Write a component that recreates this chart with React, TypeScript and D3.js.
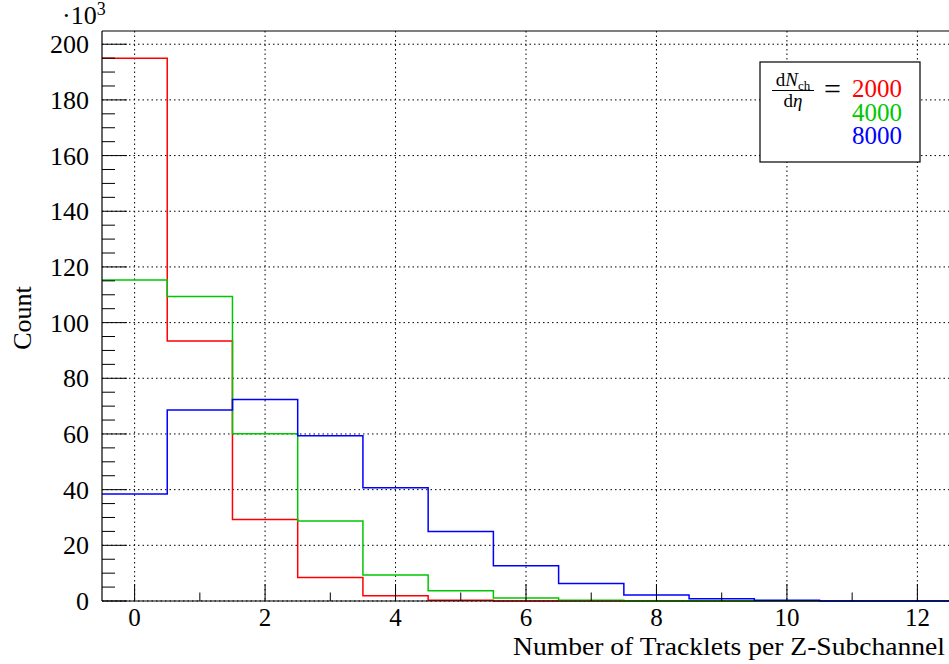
import * as d3 from 'd3';
import React from 'react';

// bin centers 0..12 (bin width 1, range -0.5 .. 12.5), counts in thousands
const binCenters = [0, 1, 2, 3, 4, 5, 6, 7, 8, 9, 10, 11, 12];
const counts2000 = [195, 93.4, 29.3, 8.4, 1.9, 0.3, 0, 0, 0, 0, 0, 0, 0];
const counts4000 = [115.3, 109.4, 60.1, 28.7, 9.3, 3.7, 1.1, 0.3, 0.05, 0, 0, 0, 0];
const counts8000 = [38.4, 68.6, 72.4, 59.4, 40.7, 25.0, 12.7, 6.3, 2.2, 0.85, 0.25, 0, 0];

const seriesNames = ['2000', '4000', '8000'];
const seriesColors = ['#ff0000', '#00c800', '#0000ff'];

const xTicks = [0, 2, 4, 6, 8, 10, 12];
const yTicks = [0, 20, 40, 60, 80, 100, 120, 140, 160, 180, 200];

const FONT = "'Liberation Serif', 'Times New Roman', serif";

const App = () => {
  const W = 949;
  const H = 664;
  const margin = { top: 31, right: 0, bottom: 63, left: 102 };
  const innerW = 950 - margin.left;
  const innerH = H - margin.top - margin.bottom;

  const xScale = d3.scaleLinear().domain([-0.5, 12.5]).range([0, innerW]);
  const yScale = d3.scaleLinear().domain([0, 195 * 1.05]).range([innerH, 0]);

  // step path like a ROOT histogram
  const stepPath = (vals: number[]) => {
    const pts: [number, number][] = [];
    vals.forEach((v, i) => {
      pts.push([binCenters[i] - 0.5, v]);
      pts.push([binCenters[i] + 0.5, v]);
    });
    return d3
      .line<[number, number]>()
      .x((d) => xScale(d[0]))
      .y((d) => yScale(d[1]))(pts);
  };

  const allSeries = [counts2000, counts4000, counts8000];

  const minorX = d3.range(0, 13, 1).filter((v) => v % 2 !== 0);
  const minorY = d3.range(0, 205, 5).filter((v) => v % 20 !== 0);

  return (
    <svg width={W} height={H} style={{ display: 'block', position: 'absolute', left: 0, top: 0 }}>
      <rect x={0} y={0} width={W} height={H} fill="#ffffff" />
      <g transform={`translate(${margin.left},${margin.top})`}>
        {/* Grid */}
        {xTicks.map((t) => (
          <line
            key={'gx' + t}
            x1={xScale(t)}
            x2={xScale(t)}
            y1={0}
            y2={innerH}
            stroke="#000"
            strokeWidth={1}
            strokeDasharray="1.5,3"
          />
        ))}
        {yTicks.map((t) => (
          <line
            key={'gy' + t}
            x1={0}
            x2={innerW}
            y1={yScale(t)}
            y2={yScale(t)}
            stroke="#000"
            strokeWidth={1}
            strokeDasharray="1.5,3"
          />
        ))}

        {/* Histograms */}
        {allSeries.map((vals, i) => (
          <path
            key={'h' + i}
            d={stepPath(vals) || ''}
            fill="none"
            stroke={seriesColors[i]}
            strokeWidth={1.5}
          />
        ))}

        {/* Frame */}
        <line x1={0} x2={innerW} y1={0} y2={0} stroke="#000" strokeWidth={1.2} />
        <line x1={0} x2={0} y1={0} y2={innerH} stroke="#000" strokeWidth={1.2} />
        <line x1={0} x2={innerW} y1={innerH} y2={innerH} stroke="#000" strokeWidth={1.2} />

        {/* X ticks */}
        {xTicks.map((t) => (
          <line key={'xt' + t} x1={xScale(t)} x2={xScale(t)} y1={innerH} y2={innerH - 17} stroke="#000" />
        ))}
        {minorX.map((t) => (
          <line key={'xm' + t} x1={xScale(t)} x2={xScale(t)} y1={innerH} y2={innerH - 8.5} stroke="#000" />
        ))}
        {xTicks.map((t) => (
          <text
            key={'xl' + t}
            x={xScale(t)}
            y={innerH + 25}
            textAnchor="middle"
            style={{ fontFamily: FONT, fontSize: '25px' }}
          >
            {t}
          </text>
        ))}

        {/* Y ticks */}
        {yTicks.map((t) => (
          <line key={'yt' + t} x1={0} x2={25} y1={yScale(t)} y2={yScale(t)} stroke="#000" />
        ))}
        {minorY.map((t) => (
          <line key={'ym' + t} x1={0} x2={13} y1={yScale(t)} y2={yScale(t)} stroke="#000" />
        ))}
        {yTicks.map((t) => (
          <text
            key={'yl' + t}
            x={-13}
            y={yScale(t)}
            dy="0.35em"
            textAnchor="end"
            style={{ fontFamily: FONT, fontSize: '26px' }}
          >
            {t}
          </text>
        ))}

        {/* exponent */}
        <text x={-40} y={-7} style={{ fontFamily: FONT, fontSize: '26px' }}>
          ·10
          <tspan dy={-9} style={{ fontSize: '18px' }}>
            3
          </tspan>
        </text>

        {/* Axis titles */}
        <text
          x={843}
          y={innerH + 54}
          textAnchor="end"
          textLength={432}
          lengthAdjust="spacingAndGlyphs"
          style={{ fontFamily: FONT, fontSize: '25px' }}
        >
          Number of Tracklets per Z-Subchannel
        </text>
        <text
          transform={`translate(${-71},${318 - margin.top}) rotate(-90)`}
          textAnchor="middle"
          style={{ fontFamily: FONT, fontSize: '26px' }}
        >
          Count
        </text>
      </g>

      {/* Legend */}
      <g>
        <rect x={760} y={62} width={160} height={100} fill="#fff" stroke="#000" strokeWidth={1.2} />
        <text x={793} y={86} textAnchor="middle" style={{ fontFamily: FONT, fontSize: '19px' }}>
          d<tspan fontStyle="italic">N</tspan>
          <tspan dy={4} style={{ fontSize: '13px' }}>ch</tspan>
        </text>
        <line x1={772} x2={814} y1={90.5} y2={90.5} stroke="#000" strokeWidth={1.1} />
        <text x={793} y={107} textAnchor="middle" style={{ fontFamily: FONT, fontSize: '19px' }}>
          d<tspan fontStyle="italic">η</tspan>
        </text>
        <text x={832.5} y={99} textAnchor="middle" style={{ fontFamily: FONT, fontSize: '30px' }}>
          =
        </text>
        <text x={852} y={97} style={{ fontFamily: FONT, fontSize: '25px' }}>
          {seriesNames.map((n, i) => (
            <tspan key={'lg' + n} x={852} dy={i === 0 ? 0 : 23.7} fill={seriesColors[i]}>
              {n}
            </tspan>
          ))}
        </text>
      </g>
    </svg>
  );
};

export default App;
